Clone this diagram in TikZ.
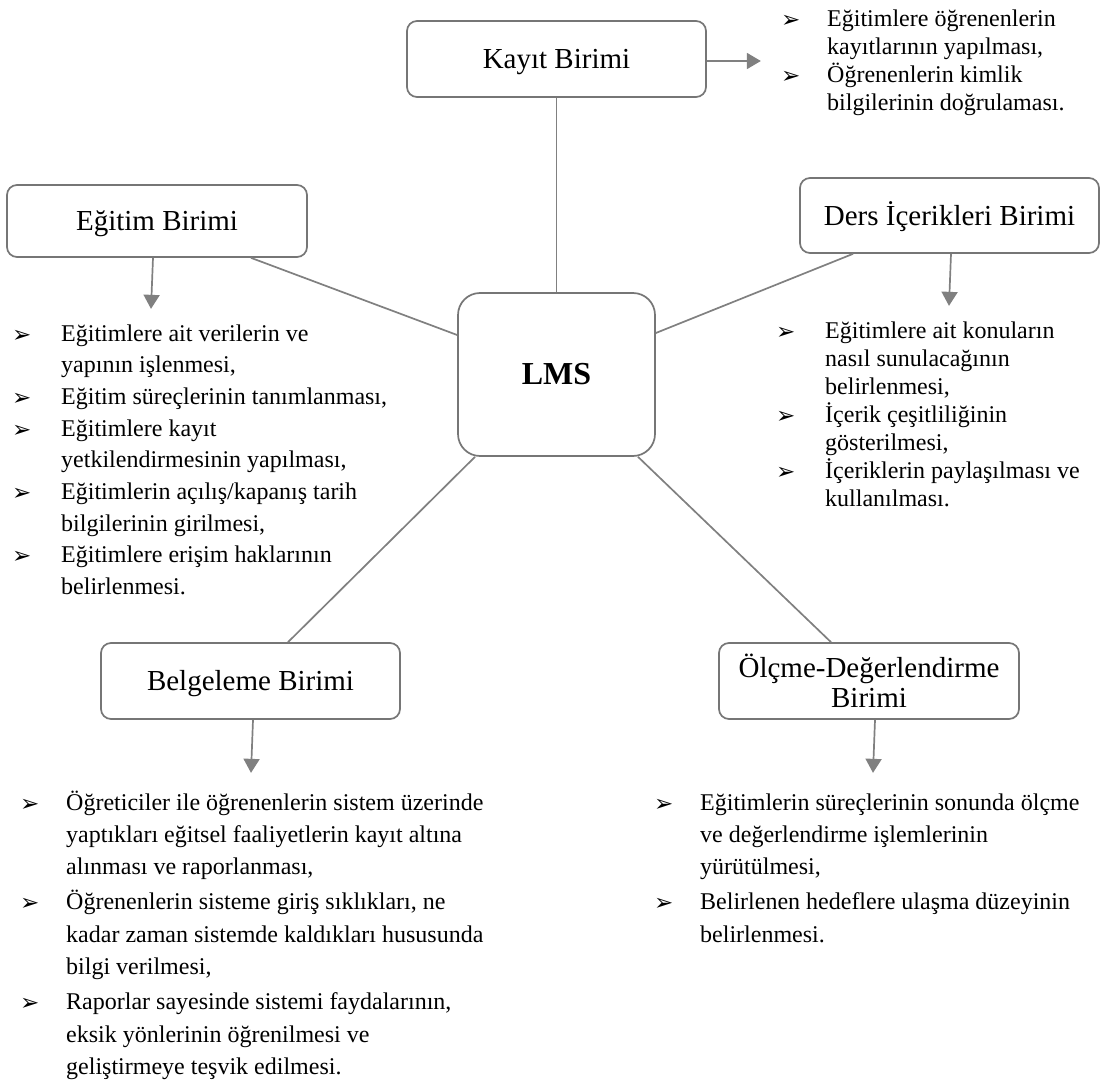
\documentclass[tikz,border=0pt]{standalone}
\usepackage{fontspec}
\setmainfont{Liberation Serif}
\newfontfamily\symfont{DejaVu Sans}
\usetikzlibrary{arrows.meta,calc}
\definecolor{linegray}{RGB}{128,128,128}
\definecolor{boxgray}{RGB}{118,118,118}
\newcommand{\bul}{\raisebox{-1pt}{\symfont\fontsize{23}{23}\selectfont ➢}}
\tikzset{
  unitbox/.style={draw=boxgray, line width=1.7pt, rounded corners=10pt, fill=white,
    inner sep=0pt, font=\fontsize{29}{30}\selectfont, align=center},
  oneline/.style={text height=19.5pt, text depth=0pt},
  link/.style={draw=linegray, line width=1.7pt},
  arr/.style={link, -{Triangle[width=16pt,length=14pt]}},
  listtext/.style={anchor=base west, inner sep=0pt, align=left}
}
\begin{document}
\begin{tikzpicture}[x=1pt,y=-1pt]
\useasboundingbox (0,0) rectangle (1106,1081);
\fill[white] (0,0) rectangle (1106,1081);

% boxes
\node[unitbox, oneline, minimum width=299pt, minimum height=76pt] (kayit) at (556.5,59) {Kayıt Birimi};
\node[unitbox, oneline, minimum width=300pt, minimum height=72pt] (egitim) at (157,221) {Eğitim Birimi};
\node[unitbox, oneline, minimum width=299pt, minimum height=75pt] (ders) at (949.5,215.5) {Ders İçerikleri Birimi};
\node[unitbox, rounded corners=22pt, minimum width=197pt, minimum height=163pt,
  font=\bfseries\fontsize{32}{34}\selectfont] (lms) at (556.5,374.5) {LMS};
\node[unitbox, oneline, minimum width=299pt, minimum height=76pt] (belge) at (250.5,681) {Belgeleme Birimi};
\node[unitbox, minimum width=300pt, minimum height=76pt] (olcme) at (869,681) {Ölçme-Değerlendirme\\Birimi};

% links to LMS
\draw[link] (kayit.south) -- (lms.north);
\draw[link] ($(egitim.south)+(94,0)$) -- ($(lms.west)+(0,-39.5)$);
\draw[link] ($(ders.south)+(-96.5,0)$) -- ($(lms.east)+(0,-41.5)$);
\draw[link] ($(belge.north)+(37.5,0)$) -- ($(lms.south)+(-81.5,0)$);
\draw[link] ($(olcme.north)+(-38,0)$) -- ($(lms.south)+(81.5,0)$);

% arrow ends
\coordinate (kayitTip) at ($(kayit.east)+(54,2)$);
\coordinate (egitimTip) at ($(egitim.south)+(-6,51)$);
\coordinate (dersTip) at ($(ders.south)+(-0.5,52)$);
\coordinate (belgeTip) at ($(belge.south)+(0.5,53)$);
\coordinate (olcmeTip) at ($(olcme.south)+(4,53)$);

\draw[arr] ($(kayit.east)+(0,2)$) -- (kayitTip);
\draw[arr] ($(egitim.south)+(-4,0)$) -- (egitimTip);
\draw[arr] ($(ders.south)+(1.5,0)$) -- (dersTip);
\draw[arr] ($(belge.south)+(2.5,0)$) -- (belgeTip);
\draw[arr] ($(olcme.south)+(6,0)$) -- (olcmeTip);

% lists
\node[listtext] (kayitList) at (781,27) {\fontsize{24}{27.8}\selectfont
\begin{tabular}[t]{@{}p{46pt}@{}l@{}}
\bul & Eğitimlere öğrenenlerin\\
 & kayıtlarının yapılması,\\
\bul & Öğrenenlerin kimlik\\
 & bilgilerinin doğrulaması.
\end{tabular}};

\node[listtext] (egitimList) at (12,341) {\fontsize{24}{31.7}\selectfont
\begin{tabular}[t]{@{}p{49pt}@{}l@{}}
\bul & Eğitimlere ait verilerin ve\\
 & yapının işlenmesi,\\
\bul & Eğitim süreçlerinin tanımlanması,\\
\bul & Eğitimlere kayıt\\
 & yetkilendirmesinin yapılması,\\
\bul & Eğitimlerin açılış/kapanış tarih\\
 & bilgilerinin girilmesi,\\
\bul & Eğitimlere erişim haklarının\\
 & belirlenmesi.
\end{tabular}};

\node[listtext] (dersList) at (776,338) {\fontsize{24}{28}\selectfont
\begin{tabular}[t]{@{}p{49pt}@{}l@{}}
\bul & Eğitimlere ait konuların\\
 & nasıl sunulacağının\\
 & belirlenmesi,\\
\bul & İçerik çeşitliliğinin\\
 & gösterilmesi,\\
\bul & İçeriklerin paylaşılması ve\\
 & kullanılması.
\end{tabular}};

\node[listtext] (belgeList) at (20,810) {\fontsize{24}{32.3}\selectfont
\begin{tabular}[t]{@{}p{46pt}@{}l@{}}
\bul & Öğreticiler ile öğrenenlerin sistem üzerinde\\
 & yaptıkları eğitsel faaliyetlerin kayıt altına\\
 & alınması ve raporlanması,\\[3pt]
\bul & Öğrenenlerin sisteme giriş sıklıkları, ne\\
 & kadar zaman sistemde kaldıkları hususunda\\
 & bilgi verilmesi,\\[3pt]
\bul & Raporlar sayesinde sistemi faydalarının,\\
 & eksik yönlerinin öğrenilmesi ve\\
 & geliştirmeye teşvik edilmesi.
\end{tabular}};

\node[listtext] (olcmeList) at (654,810) {\fontsize{24}{32.3}\selectfont
\begin{tabular}[t]{@{}p{46pt}@{}l@{}}
\bul & Eğitimlerin süreçlerinin sonunda ölçme\\
 & ve değerlendirme işlemlerinin\\
 & yürütülmesi,\\[3pt]
\bul & Belirlenen hedeflere ulaşma düzeyinin\\
 & belirlenmesi.
\end{tabular}};
\end{tikzpicture}
\end{document}
